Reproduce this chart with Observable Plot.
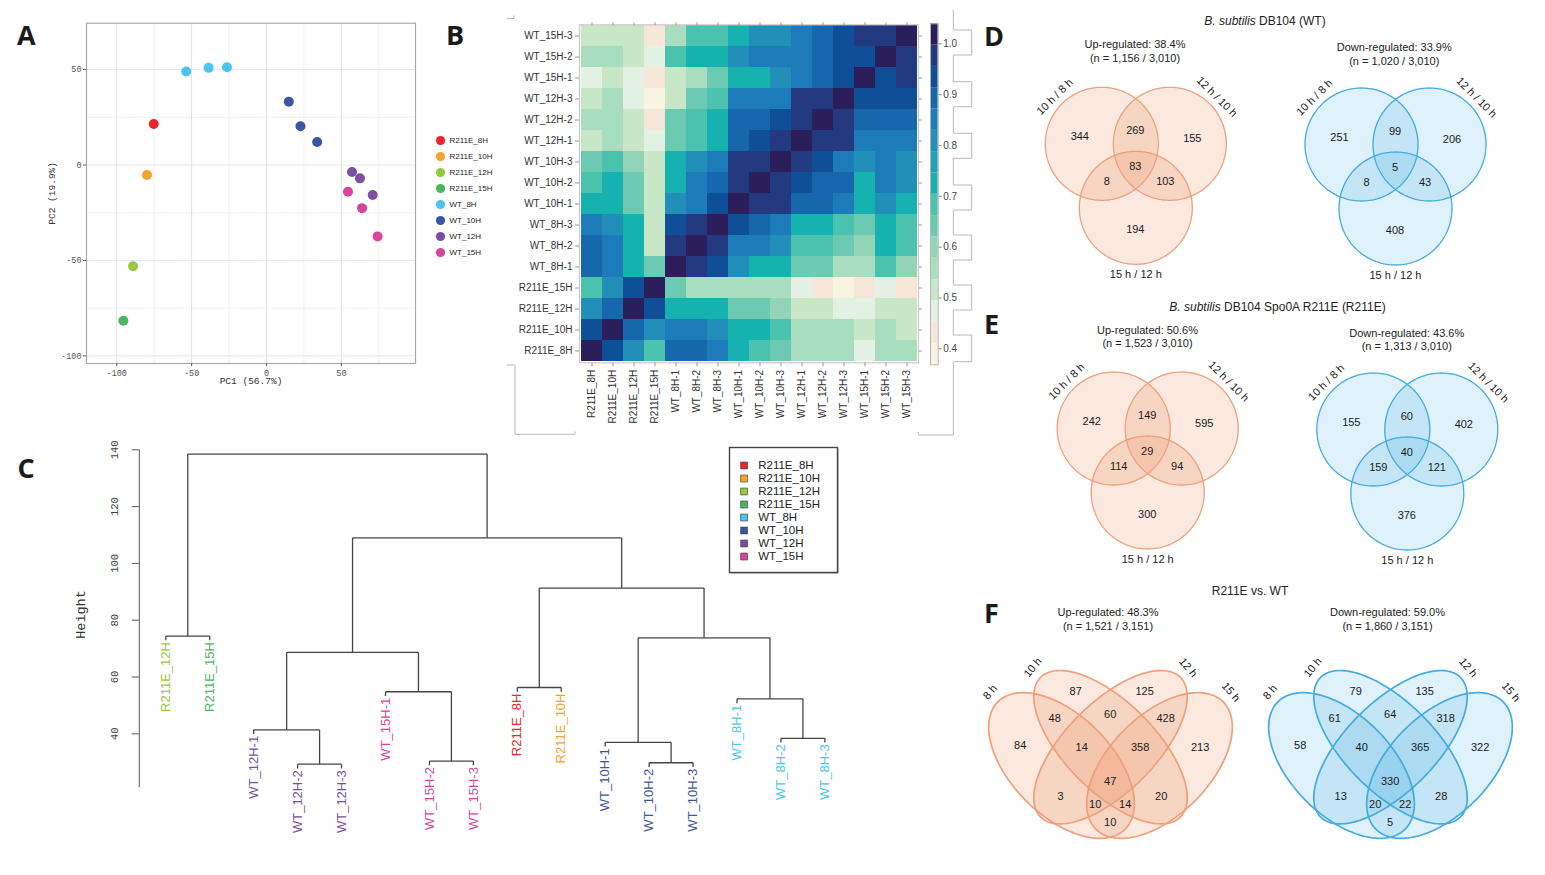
<!DOCTYPE html>
<html><head><meta charset="utf-8">
<script src="https://cdn.jsdelivr.net/npm/d3@7"></script>
<script src="https://cdn.jsdelivr.net/npm/@observablehq/plot@0.6"></script>
<style>
html,body{margin:0;padding:0;background:#fff;}
#root{position:relative;width:1545px;height:875px;overflow:hidden;font-family:"Liberation Sans",Arial,sans-serif;}
.panel{position:absolute;}
.letter{position:absolute;font-family:"Open Sans","Liberation Sans",sans-serif;font-weight:700;font-size:27px;line-height:1;color:#1a1a1a;}
.ttl{position:absolute;transform:translate(-50%,-50%);white-space:nowrap;color:#222;text-align:center;line-height:13.6px;font-family:"Liberation Sans",Arial,sans-serif;}
</style></head><body><div id="root"></div>
<script>
// ===================== DATA =====================
const groups = ["R211E_8H","R211E_10H","R211E_12H","R211E_15H","WT_8H","WT_10H","WT_12H","WT_15H"];
const groupColors = ["#e8262b","#f8a12c","#98c93c","#4bb760","#4bc5ef","#3b55a5","#7a4f9f","#d8459b"];

// Panel A – PCA
const pcaGroup = ["R211E_8H","R211E_10H","R211E_12H","R211E_15H","WT_8H","WT_8H","WT_8H","WT_10H","WT_10H","WT_10H","WT_12H","WT_12H","WT_12H","WT_15H","WT_15H","WT_15H"];
const pcaPC1 = [-75.3,-79.8,-89.1,-95.6,-53.6,-38.7,-26.4,14.9,22.7,33.8,57.1,62.4,70.9,54.4,63.8,74.2];
const pcaPC2 = [21.5,-5.2,-53.0,-81.6,49.0,50.9,51.2,33.2,20.3,12.1,-3.7,-7.0,-15.7,-14.0,-22.6,-37.4];
const pcaTicks = [-100,-50,0,50];

// Panel B – correlation heatmap (rows/cols in this order)
const hmSamples = ["R211E_8H","R211E_10H","R211E_12H","R211E_15H","WT_8H-1","WT_8H-2","WT_8H-3","WT_10H-1","WT_10H-2","WT_10H-3","WT_12H-1","WT_12H-2","WT_12H-3","WT_15H-1","WT_15H-2","WT_15H-3"];
const corrMatrix = [
  [1.00,0.93,0.81,0.68,0.89,0.89,0.83,0.73,0.68,0.64,0.54,0.57,0.54,0.47,0.57,0.54],
  [0.93,1.00,0.89,0.81,0.83,0.83,0.81,0.73,0.73,0.68,0.57,0.57,0.54,0.52,0.57,0.53],
  [0.81,0.89,1.00,0.93,0.73,0.73,0.73,0.64,0.64,0.58,0.52,0.52,0.47,0.47,0.53,0.52],
  [0.68,0.81,0.93,1.00,0.64,0.57,0.57,0.54,0.54,0.54,0.47,0.43,0.40,0.43,0.47,0.43],
  [0.89,0.84,0.73,0.64,1.00,0.96,0.93,0.81,0.73,0.73,0.64,0.64,0.55,0.55,0.68,0.58],
  [0.89,0.84,0.73,0.53,0.96,1.00,0.96,0.84,0.84,0.81,0.68,0.68,0.64,0.58,0.73,0.68],
  [0.84,0.81,0.73,0.53,0.93,0.96,1.00,0.93,0.88,0.83,0.73,0.73,0.68,0.64,0.73,0.68],
  [0.73,0.73,0.64,0.53,0.81,0.83,0.93,1.00,0.96,0.96,0.88,0.88,0.84,0.73,0.81,0.73],
  [0.68,0.73,0.64,0.53,0.73,0.83,0.89,0.96,1.00,0.96,0.93,0.88,0.88,0.73,0.84,0.82],
  [0.64,0.68,0.60,0.53,0.73,0.81,0.83,0.96,0.96,1.00,0.96,0.93,0.86,0.80,0.83,0.81],
  [0.53,0.56,0.52,0.47,0.64,0.68,0.73,0.89,0.93,0.96,1.00,0.96,0.96,0.83,0.83,0.83],
  [0.56,0.56,0.52,0.43,0.64,0.68,0.73,0.88,0.88,0.93,0.96,1.00,0.96,0.89,0.89,0.89],
  [0.52,0.55,0.47,0.40,0.52,0.64,0.68,0.83,0.86,0.86,0.96,0.96,1.00,0.93,0.93,0.93],
  [0.47,0.52,0.47,0.43,0.52,0.56,0.64,0.73,0.73,0.81,0.85,0.89,0.93,1.00,0.93,0.96],
  [0.56,0.56,0.52,0.47,0.68,0.73,0.73,0.81,0.85,0.85,0.85,0.89,0.93,0.93,1.00,0.96],
  [0.52,0.52,0.51,0.43,0.56,0.68,0.68,0.73,0.81,0.81,0.85,0.89,0.93,0.96,0.96,1.00]
];
const hmColors = ["#f8f4e4","#f5e6d8","#e3f1e4","#c8e7c6","#a9ddc0","#92d4b5","#6dcab2","#4bc2ae","#16b2b0","#1ea2b5","#218fb7","#1c7bb8","#1667ab","#0f4f98","#243a80","#2a1e5b"];
const hmRange = [0.3685, 1.0394];
const hmTicks = [0.4,0.5,0.6,0.7,0.8,0.9,1.0];

// Panel C – dendrogram
const dendroLeaves = ["R211E_12H","R211E_15H","WT_12H-1","WT_12H-2","WT_12H-3","WT_15H-1","WT_15H-2","WT_15H-3","R211E_8H","R211E_10H","WT_10H-1","WT_10H-2","WT_10H-3","WT_8H-1","WT_8H-2","WT_8H-3"];
// each merge joins two leaves (names) or earlier merges (indices)
const dendroMerge = [
  ["WT_12H-2","WT_12H-3"], ["WT_10H-2","WT_10H-3"], ["WT_15H-2","WT_15H-3"], ["WT_10H-1",1],
  ["WT_8H-2","WT_8H-3"], ["WT_12H-1",0], ["WT_8H-1",4], ["WT_15H-1",2], ["R211E_8H","R211E_10H"],
  [5,7], [3,6], ["R211E_12H","R211E_15H"], [8,10], [9,12], [11,13]
];
const dendroHeight = [29.3,29.8,30.4,37.0,38.4,41.4,52.3,54.8,56.3,68.7,73.8,74.4,91.3,109.0,138.5];
const dendroTicks = [40,60,80,100,120,140];

// Panels D/E – three-set Venn counts, regions: A, B, C, AB, AC, BC, ABC
const venn3Sets = ["10 h / 8 h","12 h / 10 h","15 h / 12 h"];
const venn3Regions = ["A","B","C","AB","AC","BC","ABC"];
const wtUpCounts      = [344,155,194,269,8,103,83];
const wtDownCounts    = [251,206,408,99,8,43,5];
const r211eUpCounts   = [242,595,300,149,114,94,29];
const r211eDownCounts = [155,402,376,60,159,121,40];

// Panel F – four-set Venn counts
const venn4Sets = ["8 h","10 h","12 h","15 h"];
const venn4Regions = ["A","B","C","D","AB","AC","AD","BC","BD","CD","ABC","ABD","ACD","BCD","ABCD"];
const vsUpCounts   = [84,87,125,213,48,3,10,60,20,428,14,14,10,358,47];
const vsDownCounts = [58,79,135,322,61,13,5,64,28,318,40,22,20,365,330];

// ===================== LAYOUT HELPERS =====================
const root = document.getElementById("root");
function place(node, left, top, w, h, extra) {
  const d = document.createElement("div");
  d.className = "panel";
  d.style.left = left + "px"; d.style.top = top + "px";
  if (w) d.style.width = w + "px";
  if (h) d.style.height = h + "px";
  if (extra) Object.assign(d.style, extra);
  d.appendChild(node);
  root.appendChild(d);
  return d;
}
function letter(t, left, top) {
  const d = document.createElement("div");
  d.className = "letter"; d.textContent = t;
  d.style.left = left + "px"; d.style.top = top + "px";
  root.appendChild(d);
}
function caption(html, cx, cy, size) {
  const d = document.createElement("div");
  d.className = "ttl"; d.innerHTML = html;
  d.style.left = cx + "px"; d.style.top = cy + "px"; d.style.fontSize = size + "px";
  root.appendChild(d);
}
const baseStyle = {background: "transparent", overflow: "visible"};

// ===================== PANEL A =====================
const pca = pcaGroup.map((g, i) => ({group: g, pc1: pcaPC1[i], pc2: pcaPC2[i]}));
const plotA = Plot.plot({
  width: 430, height: 395,
  marginLeft: 86, marginRight: 15, marginTop: 22.7, marginBottom: 32,
  x: {domain: [-120.2, 99.5]},
  y: {domain: [-104, 74.3]},
  color: {domain: groups, range: groupColors},
  style: {...baseStyle, fontFamily: "'Liberation Mono', monospace", fontSize: "8.5px", color: "#555"},
  marks: [
    Plot.gridX({ticks: [-75,-25,25,75], stroke: "#f7eef2", strokeOpacity: 1}),
    Plot.gridY({ticks: [-75,-25,25], stroke: "#f5eef1", strokeOpacity: 1}),
    Plot.gridX({ticks: pcaTicks, stroke: "#f0d9e5", strokeOpacity: 1}),
    Plot.gridY({ticks: pcaTicks, stroke: "#ebe2e6", strokeOpacity: 1}),
    Plot.frame({stroke: "#a8a8a8", strokeWidth: 1.2}),
    Plot.axisX({ticks: pcaTicks, tickSize: 3, tickPadding: 3, tickFormat: d => String(d), label: null}),
    Plot.axisY({ticks: pcaTicks, tickSize: 3, tickPadding: 2, tickFormat: d => String(d), label: null}),
    Plot.text(["PC1 (56.7%)"], {text: d => d, frameAnchor: "bottom", dy: 20.3, fontSize: 9.5, fill: "#333"}),
    Plot.text(["PC2 (19.9%)"], {text: d => d, frameAnchor: "left", dx: -34.3, rotate: -90, textAnchor: "middle", fontSize: 9.5, fill: "#333"}),
    Plot.dot(pca, {x: "pc1", y: "pc2", fill: "group", r: 5})
  ]
});
place(plotA, 0, 0, 430, 395);

const legendA = Plot.plot({
  width: 80, height: 145, marginTop: 13.3, marginBottom: 15.7, marginLeft: 0, marginRight: 0,
  y: {type: "point", domain: groups, padding: 0, axis: null},
  color: {domain: groups, range: groupColors},
  style: {...baseStyle, fontFamily: "'Liberation Sans', Arial, sans-serif", fontSize: "8px"},
  marks: [
    Plot.dot(groups, {y: d => d, frameAnchor: "left", dx: 15, r: 4.6, fill: d => d}),
    Plot.text(groups, {y: d => d, text: d => d, frameAnchor: "left", dx: 24, textAnchor: "start", fill: "#222"})
  ]
});
place(legendA, 425, 125, 80, 145);

// ===================== PANEL B =====================
const hmCells = [];
hmSamples.forEach((r, i) => hmSamples.forEach((c, j) => hmCells.push({row: r, col: c, value: corrMatrix[i][j]})));
const hmStep = (hmRange[1] - hmRange[0]) / hmColors.length;
const hmThresholds = d3.range(1, hmColors.length).map(k => hmRange[0] + k * hmStep);
const hmColor = {type: "threshold", domain: hmThresholds, range: hmColors};

const plotB = Plot.plot({
  width: 420, height: 440, marginLeft: 79, marginRight: 2, marginTop: 24.3, marginBottom: 77.7,
  x: {domain: hmSamples, padding: 0},
  y: {domain: hmSamples.slice().reverse(), padding: 0},
  color: hmColor,
  style: {...baseStyle, fontFamily: "'Liberation Sans', Arial, sans-serif", fontSize: "10px", color: "#333"},
  marks: [
    Plot.cell(hmCells, {x: "col", y: "row", fill: "value", inset: 0}),
    Plot.frame({stroke: "#cfc6cc", strokeWidth: 1.2}),
    Plot.axisX({anchor: "bottom", tickRotate: -90, tickSize: 4, tickPadding: 3, label: null, stroke: "#999"}),
    Plot.axisX({anchor: "top", tickSize: 3, tickFormat: () => "", label: null, stroke: "#999"}),
    Plot.axisY({anchor: "left", tickSize: 4, tickPadding: 3, label: null, stroke: "#999"}),
    Plot.axisY({anchor: "right", tickSize: 3, tickFormat: () => "", label: null, stroke: "#999"})
  ]
});
place(plotB, 500, 0, 420, 440);

const cbBands = hmColors.map((c, k) => ({lo: hmRange[0] + k * hmStep, hi: hmRange[0] + (k + 1) * hmStep}));
const plotCB = Plot.plot({
  width: 50, height: 440, marginLeft: 10, marginRight: 32.3, marginTop: 23.3, marginBottom: 75.7,
  x: {domain: [0, 1], axis: null},
  y: {domain: hmRange},
  color: hmColor,
  style: {...baseStyle, fontFamily: "'Liberation Sans', Arial, sans-serif", fontSize: "10px", color: "#444"},
  marks: [
    Plot.rect(cbBands, {x1: 0, x2: 1, y1: "lo", y2: "hi", fill: d => (d.lo + d.hi) / 2}),
    Plot.frame({stroke: "#b5b5b5"}),
    Plot.axisY({anchor: "right", ticks: hmTicks, tickFormat: ".1f", tickSize: 3, tickPadding: 2, label: null, stroke: "#888"})
  ]
});
place(plotCB, 920, 0, 50, 440);

// decorative crop brackets around panel B
(function () {
  const ns = "http://www.w3.org/2000/svg";
  const svg = document.createElementNS(ns, "svg");
  svg.setAttribute("width", 1545); svg.setAttribute("height", 875);
  const x1 = 953.3, x2 = 971.7, ys = [30,55,81.7,106.7,133.3,158.3,185,210,235,260,285,310,335,361.7];
  let d = `M${x1},10`; let cur = x1;
  ys.forEach(y => { d += ` V${y}`; cur = cur === x1 ? x2 : x1; d += ` H${cur}`; });
  d += ` V435 H918.3 V432`;
  d += ` M506.7,365 H515 V434.3 H575 V431.5 M507,18.5 H514 V15.5`;
  const p = document.createElementNS(ns, "path");
  p.setAttribute("d", d); p.setAttribute("fill", "none"); p.setAttribute("stroke", "#b8b8b8"); p.setAttribute("stroke-width", "1");
  svg.appendChild(p);
  place(svg, 0, 0, 1545, 875, {pointerEvents: "none"});
})();

// ===================== PANEL C =====================
const leafIndex = new Map(dendroLeaves.map((l, i) => [l, i]));
const leafGroup = name => name.replace(/-\d+$/, "");
const dendroHang = 1.5;
const nodeX = [], dendroLinks = [], leafLabels = [];
dendroMerge.forEach(([a, b], k) => {
  const h = dendroHeight[k];
  const info = c => {
    if (typeof c === "number") return {x: nodeX[c], h: dendroHeight[c]};
    leafLabels.push({name: c, x: leafIndex.get(c), h});
    return {x: leafIndex.get(c), h: h - dendroHang};
  };
  const A = info(a), B = info(b);
  nodeX[k] = (A.x + B.x) / 2;
  dendroLinks.push({x1: A.x, y1: h, x2: B.x, y2: h});
  dendroLinks.push({x1: A.x, y1: A.h, x2: A.x, y2: h});
  dendroLinks.push({x1: B.x, y1: B.h, x2: B.x, y2: h});
});
const dX0 = -0.603;
const plotC = Plot.plot({
  width: 850, height: 430, marginLeft: 138.8, marginRight: 25.6, marginTop: 10, marginBottom: 0,
  x: {domain: [dX0, dendroLeaves.length - 1], axis: null},
  y: {domain: [-4.61, 143.27]},
  color: {domain: groups, range: groupColors},
  style: {...baseStyle, fontFamily: "'Liberation Sans', Arial, sans-serif", fontSize: "13px"},
  marks: [
    Plot.ruleX([dX0], {y1: 21, y2: 140, stroke: "#555"}),
    Plot.axisY({ticks: dendroTicks, tickSize: 7, tickFormat: () => "", label: null, stroke: "#555"}),
    Plot.text(dendroTicks, {y: d => d, text: d => String(d), frameAnchor: "left", dx: -25, rotate: -90, textAnchor: "middle",
      fontFamily: "'Liberation Mono', monospace", fontSize: 10.5, fill: "#444"}),
    Plot.text(["Height"], {y: () => 82, text: d => d, frameAnchor: "left", dx: -58.8, rotate: -90, textAnchor: "middle",
      fontFamily: "'Liberation Mono', monospace", fontSize: 13.5, fill: "#333"}),
    Plot.link(dendroLinks, {x1: "x1", y1: "y1", x2: "x2", y2: "y2", stroke: "#444", strokeWidth: 1.3}),
    Plot.text(leafLabels, {x: "x", y: "h", text: "name", fill: d => leafGroup(d.name), rotate: -90,
      textAnchor: "end", dy: 6})
  ]
});
place(plotC, 0, 430, 850, 430);

const legendC = Plot.plot({
  width: 108, height: 125, marginTop: 0, marginBottom: 0, marginLeft: 0, marginRight: 0,
  y: {type: "point", domain: groups, padding: 0, range: [15.3, 111.3], axis: null},
  color: {domain: groups, range: groupColors},
  style: {...baseStyle, fontFamily: "'Liberation Sans', Arial, sans-serif", fontSize: "11.5px"},
  marks: [
    Plot.frame({stroke: "#444", strokeWidth: 1.4}),
    Plot.dot(groups, {y: d => d, frameAnchor: "left", dx: 14.6, symbol: "square", r: 3.9, fill: d => d, stroke: "#333", strokeWidth: 0.6}),
    Plot.text(groups, {y: d => d, text: d => d, frameAnchor: "left", dx: 28.7, textAnchor: "start", fill: "#222"})
  ]
});
place(legendC, 729, 446.7, 108, 125, {boxShadow: "1.5px 1.5px 0 #9a9a9a"});

// ===================== PANELS D, E, F (Venn) =====================
const venn3Geom = {r: 56.5, half: 34, drop: 64};
const venn3Panels = [
  {cx: 1135.3, cy: 143.3, counts: wtUpCounts, kind: "up"},
  {cx: 1395.0, cy: 144.0, counts: wtDownCounts, kind: "down"},
  {cx: 1147.2, cy: 428.0, counts: r211eUpCounts, kind: "up"},
  {cx: 1406.8, cy: 429.0, counts: r211eDownCounts, kind: "down"}
];
// four-ellipse layout (pixels, relative to the centre of the two inner ellipses)
const venn4Geom = [
  {dx: -49, dy: 18.3, a: 90.0, b: 50.1, rot: 45},
  {dx: 0,   dy: 0,    a: 98.8, b: 44.8, rot: 45},
  {dx: 0,   dy: 0,    a: 98.8, b: 44.8, rot: -45},
  {dx: 49,  dy: 18.3, a: 90.0, b: 50.1, rot: -45}
];
const venn4Panels = [
  {cx: 1110, cy: 746.7, counts: vsUpCounts, kind: "up"},
  {cx: 1390, cy: 746.7, counts: vsDownCounts, kind: "down"}
];
const vennStyle = {up: {fill: "#e8834f", stroke: "#eea07b", op: 0.19}, down: {fill: "#2ba3dd", stroke: "#44abe0", op: 0.15}};

function circlePoly(cx, cy, r, n = 180) {
  return d3.range(n).map(i => { const t = 2 * Math.PI * i / n; return [cx + r * Math.cos(t), cy + r * Math.sin(t)]; });
}
function ellipsePoly(cx, cy, e, n = 220) {
  const th = e.rot * Math.PI / 180;
  return d3.range(n).map(i => {
    const t = 2 * Math.PI * i / n;
    return [cx + e.dx + e.a * Math.cos(t) * Math.cos(th) - e.b * Math.sin(t) * Math.sin(th),
            cy + e.dy + e.a * Math.cos(t) * Math.sin(th) + e.b * Math.sin(t) * Math.cos(th)];
  });
}
// most interior point of every region (pole of inaccessibility on a grid)
function regionPoles(polys, step = 1.5) {
  const all = polys.flat();
  const [x0, x1] = d3.extent(all, p => p[0]), [y0, y1] = d3.extent(all, p => p[1]);
  const best = new Map();
  for (let x = x0; x <= x1; x += step) for (let y = y0; y <= y1; y += step) {
    let key = "", md = Infinity;
    polys.forEach((poly, i) => {
      if (d3.polygonContains(poly, [x, y])) key += "ABCD"[i];
      for (const p of poly) { const d = (p[0] - x) ** 2 + (p[1] - y) ** 2; if (d < md) md = d; }
    });
    if (!key) continue;
    const b = best.get(key);
    if (!b || md > b.d) best.set(key, {x, y, d: md});
  }
  return best;
}

const shapes = {up3: [], down3: [], up4: [], down4: []}, countLabels = [], setLabels = [];
let sid = 0;
function addPolys(polys, key) {
  polys.forEach(poly => { const id = sid++; poly.forEach(([x, y]) => shapes[key].push({id, x, y})); });
}
venn3Panels.forEach(p => {
  const G = venn3Geom;
  const centers = [[p.cx - G.half, p.cy], [p.cx + G.half, p.cy], [p.cx, p.cy + G.drop]];
  const polys = centers.map(([x, y]) => circlePoly(x, y, G.r));
  addPolys(polys, p.kind + "3");
  const poles = regionPoles(polys);
  venn3Regions.forEach((reg, i) => { const q = poles.get(reg); if (q) countLabels.push({x: q.x, y: q.y, text: String(p.counts[i])}); });
  const angs = [-135, -45, 90], rots = [-45, 45, 0];
  centers.forEach(([x, y], i) => {
    const a = angs[i] * Math.PI / 180;
    setLabels.push({x: x + (G.r + 10) * Math.cos(a), y: y + (G.r + 10) * Math.sin(a), text: venn3Sets[i], rotate: rots[i]});
  });
});
venn4Panels.forEach(P => {
  const polys = venn4Geom.map(e => ellipsePoly(P.cx, P.cy, e));
  addPolys(polys, P.kind + "4");
  const poles = regionPoles(polys);
  venn4Regions.forEach((reg, i) => { const q = poles.get(reg); if (q) countLabels.push({x: q.x, y: q.y, text: String(P.counts[i])}); });
  venn4Geom.forEach((e, i) => {
    const th = e.rot * Math.PI / 180, s = Math.sin(th) > 0 ? -1 : 1, ext = e.a + 11;
    setLabels.push({x: P.cx + e.dx + s * ext * Math.cos(th), y: P.cy + e.dy + s * ext * Math.sin(th) - 2,
      text: venn4Sets[i], rotate: e.rot > 0 ? e.rot - 95 : e.rot + 95});
  });
});

const vennMarks = [];
[["up3", 1.3], ["down3", 1.3], ["up4", 1.8], ["down4", 1.8]].forEach(([k, w]) => {
  const st = vennStyle[k.startsWith("up") ? "up" : "down"];
  vennMarks.push(Plot.line(shapes[k], {x: "x", y: "y", z: "id", curve: "linear-closed", fill: st.fill, fillOpacity: st.op, stroke: "none"}));
});
[["up3", 1.3], ["down3", 1.3], ["up4", 1.7], ["down4", 1.7]].forEach(([k, w]) => {
  const st = vennStyle[k.startsWith("up") ? "up" : "down"];
  vennMarks.push(Plot.line(shapes[k], {x: "x", y: "y", z: "id", curve: "linear-closed", stroke: st.stroke, strokeWidth: w}));
});
const plotV = Plot.plot({
  width: 570, height: 875, marginLeft: 0, marginRight: 0, marginTop: 0, marginBottom: 0,
  x: {domain: [975, 1545], range: [0, 570], axis: null},
  y: {domain: [0, 875], range: [0, 875], axis: null},
  style: {...baseStyle, fontFamily: "'Liberation Sans', Arial, sans-serif", fontSize: "11px"},
  marks: [
    ...vennMarks,
    Plot.text(countLabels, {x: "x", y: "y", text: "text", fill: "#1a1a1a"}),
    Plot.text(setLabels, {x: "x", y: "y", text: "text", rotate: "rotate", fill: "#1a1a1a"})
  ]
});
place(plotV, 975, 0, 570, 875);

// titles and subtitles
caption("<i>B. subtilis</i> DB104 (WT)", 1265, 21.7, 12);
caption("Up-regulated: 38.4%<br>(n = 1,156 / 3,010)", 1135, 52.2, 11);
caption("Down-regulated: 33.9%<br>(n = 1,020 / 3,010)", 1394.3, 55, 11);
caption("<i>B. subtilis</i> DB104 Spo0A R211E (R211E)", 1277.5, 308.3, 12);
caption("Up-regulated: 50.6%<br>(n = 1,523 / 3,010)", 1147.5, 337.8, 11);
caption("Down-regulated: 43.6%<br>(n = 1,313 / 3,010)", 1406.8, 340.7, 11);
caption("R211E vs. WT", 1250, 591.7, 12);
caption("Up-regulated: 48.3%<br>(n = 1,521 / 3,151)", 1108, 620, 11);
caption("Down-regulated: 59.0%<br>(n = 1,860 / 3,151)", 1387.5, 620, 11);

// panel letters
letter("A", 17, 21.3);
letter("B", 446, 21.3);
letter("C", 17.5, 453.6);
letter("D", 984, 22);
letter("E", 984, 310.3);
letter("F", 984, 599.3);
</script></body></html>
